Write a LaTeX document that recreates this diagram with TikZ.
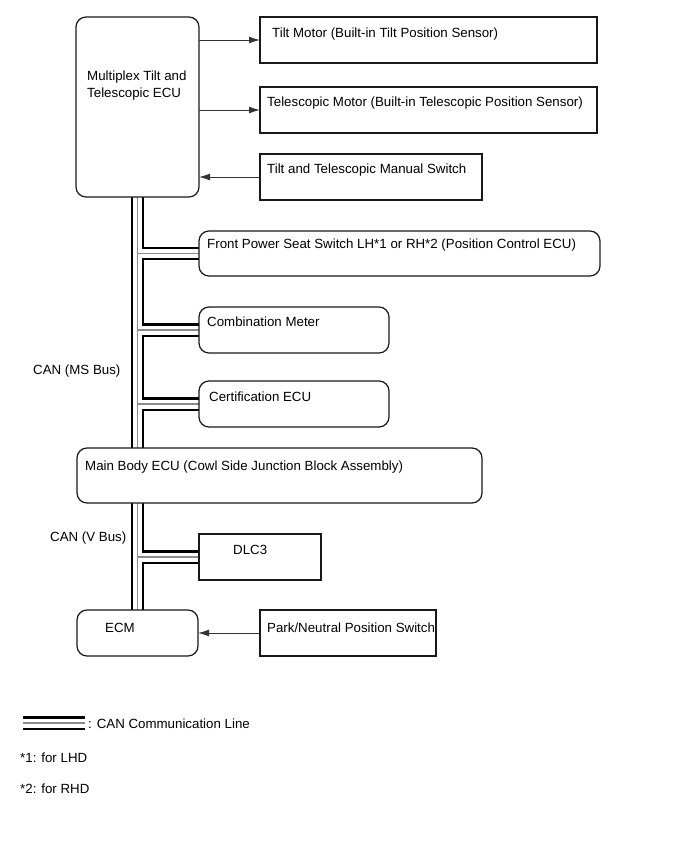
\documentclass[tikz,border=0pt]{standalone}
\usepackage{fontspec}
\setmainfont{Liberation Sans}
\usetikzlibrary{arrows.meta,calc,backgrounds}
\begin{document}
\begin{tikzpicture}[x=1pt,y=-1pt,
  box/.style={draw=black!90, line width=1.2pt, fill=white, inner sep=0pt, outer sep=0pt, anchor=north west},
  rbox/.style={box, rounded corners=10pt},
  txt/.style={anchor=base west, inner sep=0pt, font=\fontsize{13.3}{17}\selectfont},
  busA/.style={line width=13.5pt, black},
  busB/.style={line width=9pt, white},
  busC/.style={line width=1.5pt, black!45},
  arr/.style={draw=black!80, line width=1pt, -{Latex[length=11pt,width=7pt]}},
]
\useasboundingbox (0,0) rectangle (690,855);
% boxes
\node[rbox, minimum width=123pt, minimum height=180pt] (ecu) at (76,17) {};
\node[box, minimum width=337pt, minimum height=46pt] (tilt) at (260,17) {};
\node[box, minimum width=337pt, minimum height=46pt] (tele) at (260,87) {};
\node[box, minimum width=222pt, minimum height=46pt] (man) at (260,154) {};
\node[rbox, minimum width=401pt, minimum height=45pt] (fps) at (199,231) {};
\node[rbox, minimum width=190pt, minimum height=46pt] (cm) at (199,307) {};
\node[rbox, minimum width=190pt, minimum height=46pt] (cert) at (199,381) {};
\node[rbox, minimum width=405pt, minimum height=55pt] (body) at (77,448) {};
\node[box, minimum width=122pt, minimum height=46pt] (dlc) at (199,534) {};
\node[rbox, minimum width=121pt, minimum height=46pt] (ecm) at (77,610) {};
\node[box, minimum width=176pt, minimum height=46pt] (park) at (260,610) {};
% texts
\node[txt] (ecuT1) at (87,80) {Multiplex Tilt and};
\node[txt] (ecuT2) at (87,97) {Telescopic ECU};
\node[txt] (tiltT) at (272,37) {Tilt Motor (Built-in Tilt Position Sensor)};
\node[txt] (teleT) at (267,106) {Telescopic Motor (Built-in Telescopic Position Sensor)};
\node[txt] (manT) at (267,173) {Tilt and Telescopic Manual Switch};
\node[txt] (fpsT) at (207,248) {Front Power Seat Switch LH*1 or RH*2 (Position Control ECU)};
\node[txt] (cmT) at (207,326) {Combination Meter};
\node[txt] (certT) at (209,401) {Certification ECU};
\node[txt] (bodyT) at (85,470) {Main Body ECU (Cowl Side Junction Block Assembly)};
\node[txt] (dlcT) at (233,554) {DLC3};
\node[txt] (ecmT) at (105,632) {ECM};
\node[txt] (parkT) at (267,632) {Park/Neutral Position Switch};
\node[txt] (msT) at (33,374) {CAN (MS Bus)};
\node[txt] (vT) at (50,541) {CAN (V Bus)};
\node[txt] (lgT) at (88,728) {: CAN Communication Line};
\node[txt] (n1T) at (20,762) {*1: for LHD};
\node[txt] (n2T) at (20,793) {*2: for RHD};
% bus
\coordinate (lg1) at (23,723);
\coordinate (lg2) at (85,723);
\begin{scope}[on background layer]
\foreach \s in {busA,busB,busC}{
  \draw[\s] (ecu.south) -- (ecu.south |- body.north)
    (ecu.south |- body.south) -- (ecm.north)
    (ecu.south |- fps.west) -- (fps.west)
    (ecu.south |- cm.west) -- (cm.west)
    (ecu.south |- cert.west) -- (cert.west)
    (ecu.south |- dlc.west) -- (dlc.west)
    (lg1) -- (lg2);
}
\end{scope}
% arrows
\draw[arr] (tilt.west -| ecu.east) -- (tilt.west);
\draw[arr] (tele.west -| ecu.east) -- (tele.west);
\draw[arr] (man.west) -- (man.west -| ecu.east);
\draw[arr] (park.west) -- (park.west -| ecm.east);
\end{tikzpicture}
\end{document}
